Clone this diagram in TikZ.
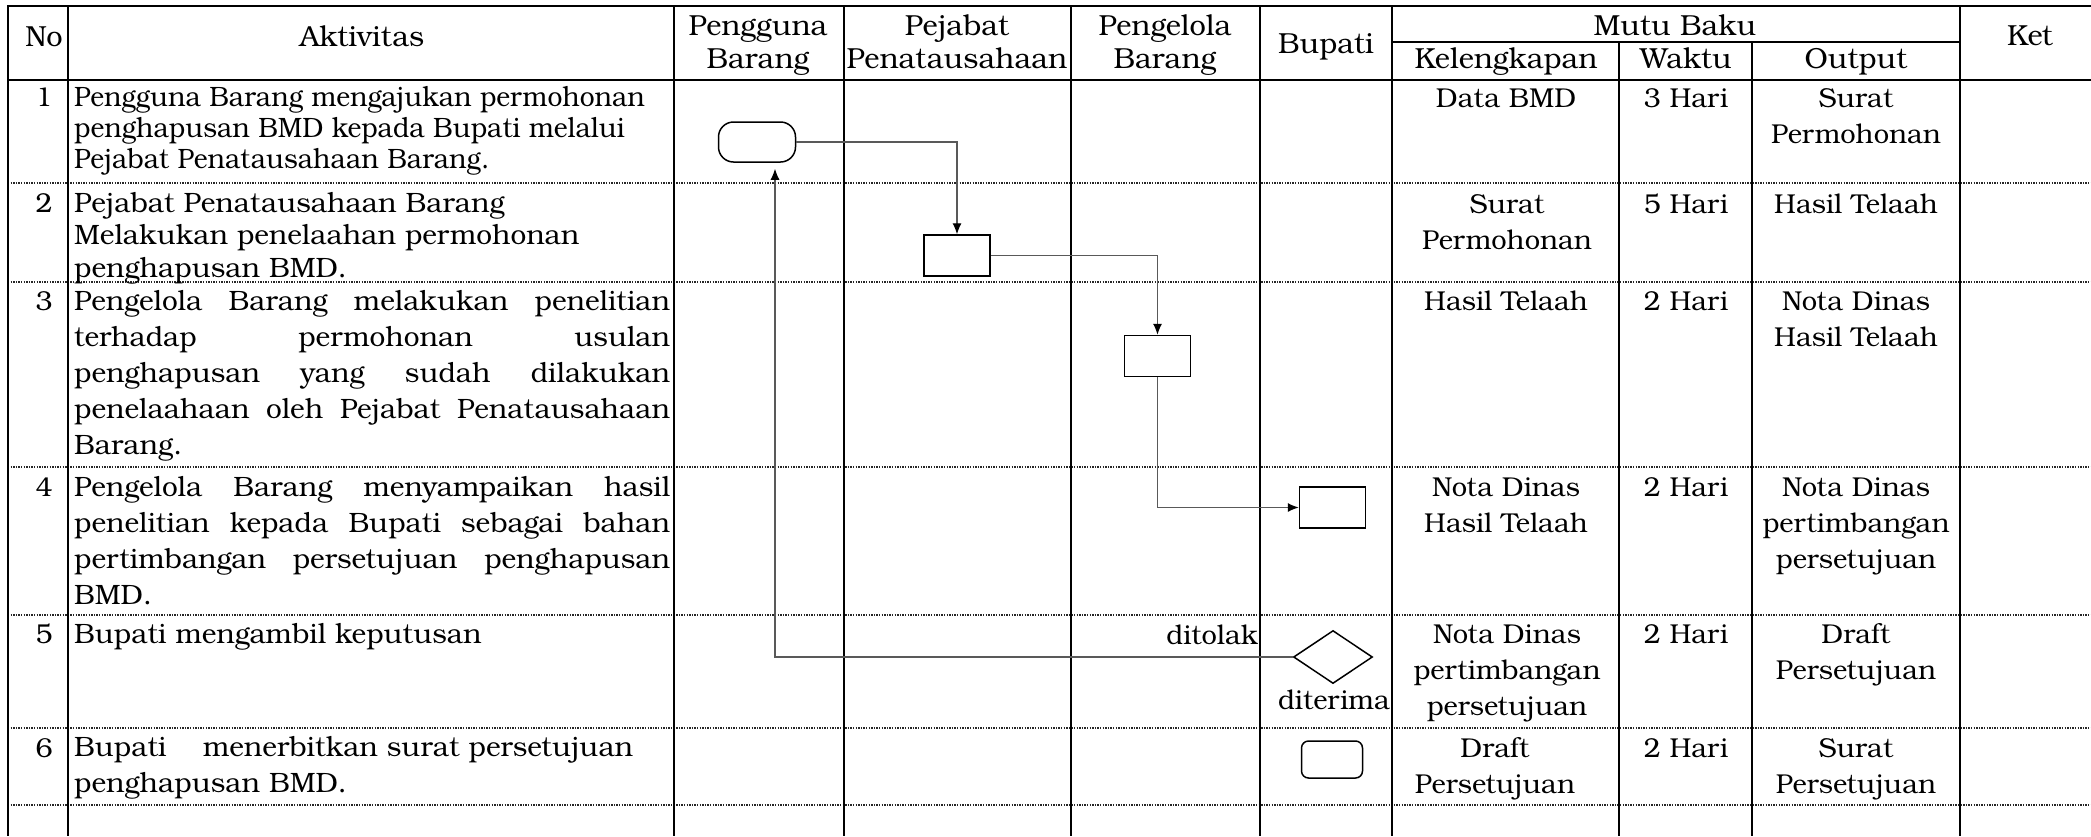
\documentclass[tikz,border=0pt]{standalone}
\usepackage{fontspec}
\setmainfont{texgyrebonum-regular.otf}
\newfontfamily\narrowbody{texgyrebonum-regular.otf}[FakeStretch=0.945]
\usetikzlibrary{arrows.meta,shapes.geometric}

\begin{document}
% multi-line nodes sit on the baseline of their last line
\begin{tikzpicture}[x=1pt,y=-1pt,
  frame/.style={line width=2pt},
  rowline/.style={line width=1.4pt, dash pattern=on 1.3pt off 1.3pt, black!85},
  flow/.style={line width=1.1pt, black!65},
  tip/.style={-{Latex[length=11pt,width=9pt,color=black]}},
  cell/.style={inner sep=0pt, anchor=base, align=center, font=\fontsize{27.3}{36}\selectfont},
  head/.style={cell, font=\fontsize{29}{33}\selectfont},
  act/.style={inner sep=0pt, anchor=base west, align=left, font=\fontsize{28}{32.5}\selectfont},
  actnarrow/.style={act, font=\narrowbody\fontsize{28}{31}\selectfont},
  actwide/.style={act, font=\fontsize{28}{36}\selectfont},
  proc/.style={draw, line width=1.5pt, minimum width=66pt, minimum height=41pt, inner sep=0pt},
  term/.style={draw, line width=1.5pt, inner sep=0pt},
  decision/.style={draw, diamond, line width=1.5pt, minimum width=79pt, minimum height=53pt, inner sep=0pt}
]
\useasboundingbox (0,0) rectangle (2091,836);
\fill[white] (0,0) rectangle (2091,836);

% row separators
\foreach \yy in {183,282,467,615,728,805}
  \draw[rowline] (8,\yy) -- (2091,\yy);

% solid rules
\draw[frame] (8,6) -- (2091,6);
\draw[frame] (8,80) -- (2091,80);
\draw[frame] (1392,42) -- (1960,42);
\foreach \xx in {8,68,674,844,1071,1260,1392,1960}
  \draw[frame] (\xx,5) -- (\xx,836);
\foreach \xx in {1619,1752}
  \draw[frame] (\xx,42) -- (\xx,836);

% header
\node[head] (hno) at (44,46) {No};
\node[head] (hakt) at (362,46) {Aktivitas};
\node[head] (hpb) at (758,68) {Pengguna\\Barang};
\node[head] (hpp) at (957,68) {Pejabat\\Penatausahaan};
\node[head] (hpl) at (1165,68) {Pengelola\\Barang};
\node[head] (hbup) at (1326,53) {Bupati};
\node[head] (hmutu) at (1675,35) {Mutu Baku};
\node[head] (hkel) at (1506,68) {Kelengkapan};
\node[head] (hwak) at (1686,68) {Waktu};
\node[head] (hout) at (1856,68) {Output};
\node[head] (hket) at (2030,45) {Ket};

% step numbers
\node[cell] (n1) at (44,106) {1};
\node[cell] (n2) at (44,212) {2};
\node[cell] (n3) at (44,310) {3};
\node[cell] (n4) at (44,496) {4};
\node[cell] (n5) at (44,643) {5};
\node[cell] (n6) at (44,757) {6};

% activities
\node[actnarrow] (a1) at (74,168) {Pengguna Barang mengajukan permohonan\\penghapusan BMD kepada Bupati melalui\\Pejabat Penatausahaan Barang.};
\node[act] (a2) at (74,277) {Pejabat Penatausahaan Barang\\Melakukan penelaahan permohonan\\penghapusan BMD.};
\node[actwide] (a3) at (74,454) {\makebox[596pt][s]{Pengelola Barang melakukan penelitian}\\
  \makebox[596pt][s]{terhadap permohonan usulan}\\
  \makebox[596pt][s]{penghapusan yang sudah dilakukan}\\
  \makebox[596pt][s]{penelaahaan oleh Pejabat Penatausahaan}\\
  Barang.};
\node[actwide] (a4) at (74,604) {\makebox[596pt][s]{Pengelola Barang menyampaikan hasil}\\
  \makebox[596pt][s]{penelitian kepada Bupati sebagai bahan}\\
  \makebox[596pt][s]{pertimbangan persetujuan penghapusan}\\
  BMD.};
\node[act] (a5) at (74,643) {Bupati mengambil keputusan};
\node[actwide] (a6) at (74,792) {\makebox[559pt][l]{Bupati\hfill menerbitkan surat persetujuan}\\penghapusan BMD.};

% quality standard: completeness, time, output
\node[cell] (k1) at (1506,107) {Data BMD};
\node[cell] (w1) at (1686,107) {3 Hari};
\node[cell] (o1) at (1856,143) {Surat\\Permohonan};
\node[cell] (k2) at (1507,249) {Surat\\Permohonan};
\node[cell] (w2) at (1686,213) {5 Hari};
\node[cell] (o2) at (1856,213) {Hasil Telaah};
\node[cell] (k3) at (1506,310) {Hasil Telaah};
\node[cell] (w3) at (1686,310) {2 Hari};
\node[cell] (o3) at (1856,346) {Nota Dinas\\Hasil Telaah};
\node[cell] (k4) at (1506,532) {Nota Dinas\\Hasil Telaah};
\node[cell] (w4) at (1686,496) {2 Hari};
\node[cell] (o4) at (1856,568) {Nota Dinas\\pertimbangan\\persetujuan};
\node[cell] (k5) at (1507,715) {Nota Dinas\\pertimbangan\\persetujuan};
\node[cell] (w5) at (1686,643) {2 Hari};
\node[cell] (o5) at (1856,679) {Draft\\Persetujuan};
\node[cell] (k6) at (1495,793) {Draft\\Persetujuan};
\node[cell] (w6) at (1686,757) {2 Hari};
\node[cell] (o6) at (1856,793) {Surat\\Persetujuan};

% flow symbols
\node[term, minimum width=77pt, minimum height=40pt, rounded corners=15pt] (t1) at (757,142) {};
\node[proc] (b2) at (957,255.5) {};
\node[proc] (b3) at (1157.5,356) {};
\node[proc] (b4) at (1332.5,507.5) {};
\node[decision] (d5) at (1333,657) {};
\node[term, minimum width=61pt, minimum height=37pt, rounded corners=7pt] (t6) at (1332,759.5) {};

% connectors
\draw[flow,tip] (t1.east) -| (b2.north);
\draw[flow,tip] (b2.east) -| (b3.north);
\draw[flow,tip] (b3.south) |- (b4.west);
\draw[flow,tip,shorten >=6pt] (d5.west) -| ([xshift=18pt]t1.south);

% decision labels
\node[cell, anchor=base east] (ltolak) at (1258,644) {ditolak};
\node[cell] (lterima) at (1334,709) {diterima};
\end{tikzpicture}
\end{document}
